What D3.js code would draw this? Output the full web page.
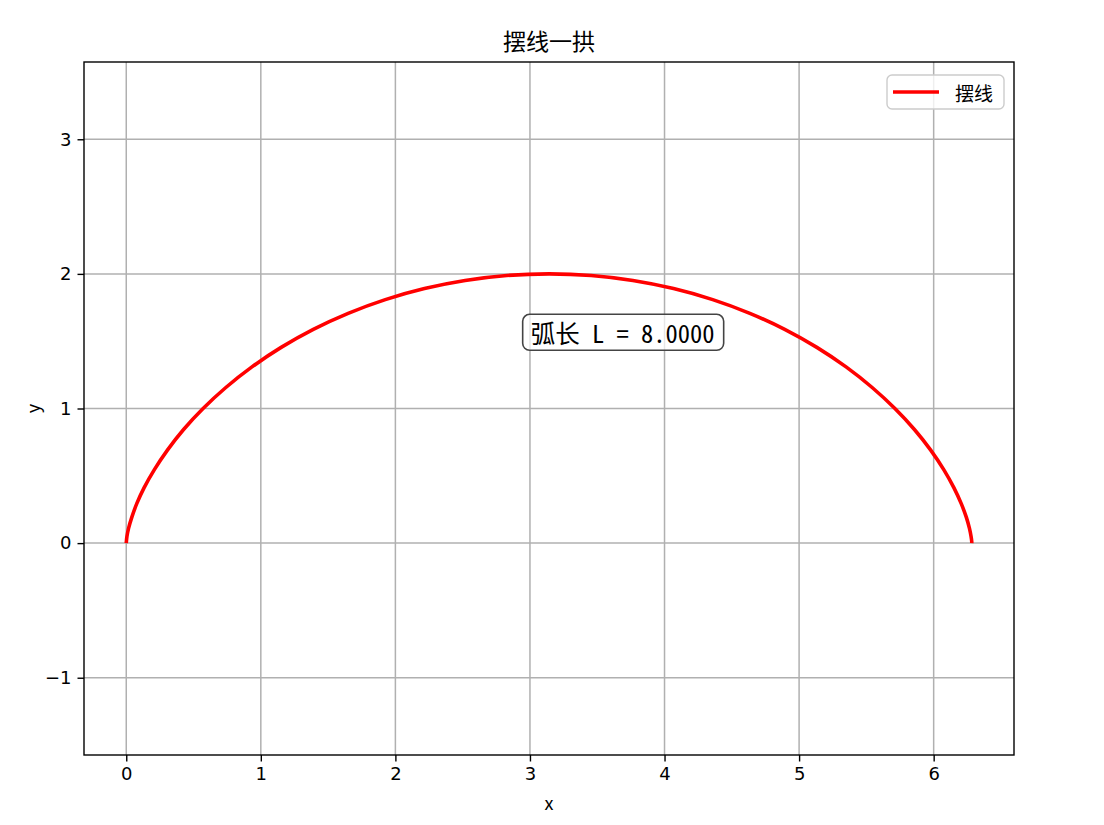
<!DOCTYPE html>
<html>
<head>
<meta charset="utf-8">
<script src="https://cdn.jsdelivr.net/npm/d3@7"></script>
<style>
  html, body { margin: 0; padding: 0; background: #fff; }
  svg { display: block; }
  text { font-family: "Noto Sans CJK SC", "DejaVu Sans", sans-serif; fill: #000; }
</style>
</head>
<body>
<div id="chart"></div>
<script>
// 摆线一拱 -- points
const curveX = [0, 0.001, 0.005, 0.017, 0.041, 0.078, 0.133, 0.209, 0.306, 0.426,
  0.571, 0.740, 0.934, 1.151, 1.390, 1.649, 1.925, 2.216, 2.518, 2.828,
  3.142, 3.455, 3.765, 4.067, 4.358, 4.634, 4.893, 5.132, 5.349, 5.543,
  5.712, 5.857, 5.978, 6.075, 6.150, 6.205, 6.243, 6.266, 6.278, 6.283, 6.283];
const curveY = [0, 0.012, 0.049, 0.109, 0.191, 0.293, 0.412, 0.546, 0.691, 0.844,
  1.000, 1.156, 1.309, 1.454, 1.588, 1.707, 1.809, 1.891, 1.951, 1.988,
  2.000, 1.988, 1.951, 1.891, 1.809, 1.707, 1.588, 1.454, 1.309, 1.156,
  1.000, 0.844, 0.691, 0.546, 0.412, 0.293, 0.191, 0.109, 0.049, 0.012, 0];
const xTicks = [0, 1, 2, 3, 4, 5, 6];
const yTicks = [-1, 0, 1, 2, 3];
const titleText = '摆线一拱';
const seriesName = '摆线';
const noteText = '弧长 L = 8.0000';
const notePos = [3.689, 1.566];

const W = 1104, H = 825;
const plot = { left: 84, right: 1014, top: 62, bottom: 755 };

const svg = d3.select('#chart').append('svg')
  .attr('width', W).attr('height', H);

const x = d3.scaleLinear().domain([-0.314, 6.597]).range([plot.left, plot.right]);
const y = d3.scaleLinear().domain([-1.574, 3.574]).range([plot.bottom, plot.top]);

// grid
const grid = svg.append('g').attr('class', 'grid')
  .attr('stroke', '#b0b0b0').attr('stroke-width', 1.5);
grid.selectAll('.gx').data(xTicks).enter().append('line')
  .attr('x1', d => x(d)).attr('x2', d => x(d))
  .attr('y1', plot.top).attr('y2', plot.bottom);
grid.selectAll('.gy').data(yTicks).enter().append('line')
  .attr('x1', plot.left).attr('x2', plot.right)
  .attr('y1', d => y(d)).attr('y2', d => y(d));

// curve
const pts = curveX.map((v, i) => [v, curveY[i]]);
svg.append('path')
  .datum(pts)
  .attr('fill', 'none')
  .attr('stroke', '#ff0000')
  .attr('stroke-width', 3.6)
  .attr('d', d3.line().x(d => x(d[0])).y(d => y(d[1])).curve(d3.curveCatmullRom.alpha(0.5)));

// axes
const fmt = d3.format('d');
const xAxis = svg.append('g')
  .attr('transform', `translate(0,${plot.bottom})`)
  .call(d3.axisBottom(x).tickValues(xTicks).tickFormat(fmt).tickSizeOuter(0).tickSize(6.5).tickPadding(6));
const yAxis = svg.append('g')
  .attr('transform', `translate(${plot.left},0)`)
  .call(d3.axisLeft(y).tickValues(yTicks).tickFormat(fmt).tickSizeOuter(0).tickSize(6.5).tickPadding(6));
[xAxis, yAxis].forEach(a => {
  a.select('.domain').remove();
  a.selectAll('.tick line').attr('stroke', '#000').attr('stroke-width', 1.4);
  a.selectAll('.tick text').attr('fill', '#000')
    .style('font-family', '"DejaVu Sans", sans-serif').style('font-size', '18px');
});

// frame
svg.append('rect')
  .attr('x', plot.left).attr('y', plot.top)
  .attr('width', plot.right - plot.left).attr('height', plot.bottom - plot.top)
  .attr('fill', 'none').attr('stroke', '#000').attr('stroke-width', 1.4);

// labels
svg.append('text').text(titleText)
  .attr('x', (plot.left + plot.right) / 2).attr('y', 50)
  .attr('text-anchor', 'middle').style('font-size', '23px');
svg.append('text').text('x')
  .attr('x', (plot.left + plot.right) / 2).attr('y', 810)
  .attr('text-anchor', 'middle').style('font-size', '18px');
svg.append('text').text('y')
  .attr('transform', `translate(40,${(plot.top + plot.bottom) / 2}) rotate(-90)`)
  .attr('text-anchor', 'middle').style('font-size', '18px');

// annotation
const note = svg.append('g');
const noteRect = note.append('rect');
note.append('text').text(noteText)
  .attr('x', x(notePos[0])).attr('y', y(notePos[1]))
  .attr('text-anchor', 'middle').attr('dominant-baseline', 'central')
  .style('font-family', '"Noto Sans Mono CJK SC", "Noto Sans CJK SC", monospace')
  .style('font-size', '24.5px');
noteRect
  .attr('x', x(notePos[0]) - 100).attr('y', y(notePos[1]) - 18)
  .attr('width', 201).attr('height', 36)
  .attr('rx', 7)
  .attr('fill', '#fff').attr('fill-opacity', 0.7)
  .attr('stroke', '#444').attr('stroke-width', 1.6);

// legend
const legend = svg.append('g').attr('transform', 'translate(887,75)');
legend.append('rect')
  .attr('width', 117).attr('height', 34).attr('rx', 5)
  .attr('fill', '#fff').attr('fill-opacity', 0.8)
  .attr('stroke', '#cccccc').attr('stroke-width', 1.4);
legend.append('line')
  .attr('x1', 6).attr('x2', 52).attr('y1', 17).attr('y2', 17)
  .attr('stroke', '#ff0000').attr('stroke-width', 3.6);
legend.append('text').text(seriesName)
  .attr('x', 68).attr('y', 17).attr('dominant-baseline', 'central')
  .style('font-size', '19px');
</script>
</body>
</html>
